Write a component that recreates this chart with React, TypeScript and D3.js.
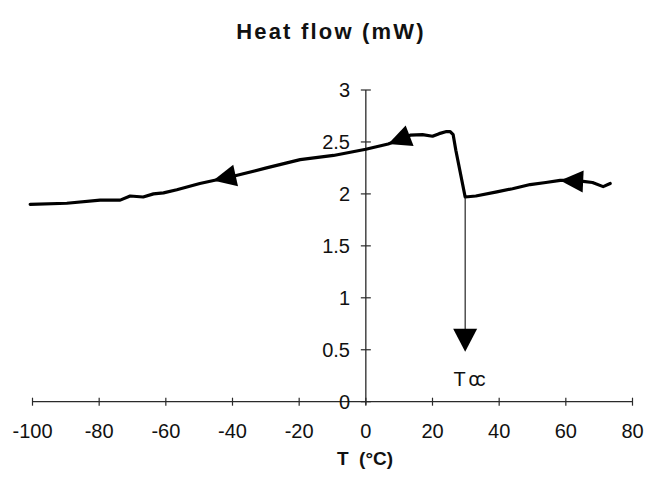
import React from "react";
import * as d3 from "d3";

// DSC cooling trace: temperature (°C) vs heat flow (mW)
const tempC = [
  -100.7, -89.7, -79.7, -73.7, -70.7, -66.8, -63.7, -60.7, -56.7, -49.8,
  -39.8, -29.8, -19.7, -9.7, 0, 6.7, 10, 13.3, 17, 20, 22, 24.2, 25.3, 26.2,
  27, 29.8, 33, 39.3, 44, 49.3, 54, 58.3, 62, 65.2, 68, 71.2, 73.3,
];
const heatFlow = [
  1.9, 1.91, 1.94, 1.94, 1.98, 1.97, 2.0, 2.01, 2.04, 2.1,
  2.17, 2.25, 2.33, 2.37, 2.43, 2.48, 2.52, 2.565, 2.57, 2.555, 2.58, 2.6, 2.6, 2.57,
  2.42, 1.97, 1.98, 2.02, 2.05, 2.09, 2.11, 2.13, 2.13, 2.12, 2.11, 2.07, 2.1,
];

// direction arrows along the trace (tip positions, °C)
const arrowTemps = [-45.8, 6.7, 58.3];

// crystallisation temperature marker
const tccTemp = 29.8;
const tccArrowTip = 0.48;
const tccLabel = ["T", "cc"];

const xTicks = [-100, -80, -60, -40, -20, 0, 20, 40, 60, 80];
const yTicks = [0, 0.5, 1, 1.5, 2, 2.5, 3];
const yTickLabels = ["0", "0.5", "1", "1.5", "2", "2.5", "3"];

const title = "Heat flow (mW)";
const xTitle = "T  (°C)";

const W = 645;
const H = 479;
const FONT = "'Liberation Sans', Arial, sans-serif";

export default function App() {
  const x = d3.scaleLinear().domain([-100, 80]).range([32.5, 632.5]);
  const y = d3.scaleLinear().domain([0, 3]).range([401.7, 90]);

  const pts: [number, number][] = tempC.map((t, i) => [t, heatFlow[i]]);
  const line = d3
    .line<[number, number]>()
    .x((d) => x(d[0]))
    .y((d) => y(d[1]))
    .curve(d3.curveLinear);

  const interp = (t: number) => {
    const i = Math.max(1, Math.min(tempC.length - 1, d3.bisectLeft(tempC, t)));
    const t0 = tempC[i - 1];
    const t1 = tempC[i];
    const f = (t - t0) / (t1 - t0);
    return heatFlow[i - 1] + f * (heatFlow[i] - heatFlow[i - 1]);
  };

  // left-pointing triangles laid along the trace
  const arrowLen = 23;
  const arrowHalf = 11;
  const arrows = arrowTemps.map((t) => {
    const tx = x(t);
    const ty = y(interp(t));
    const bx = tx + arrowLen;
    const by = y(interp(x.invert(bx)));
    const dx = bx - tx;
    const dy = by - ty;
    const len = Math.hypot(dx, dy);
    const ux = dx / len;
    const uy = dy / len;
    const cx = tx + ux * arrowLen;
    const cy = ty + uy * arrowLen;
    const px = -uy * arrowHalf;
    const py = ux * arrowHalf;
    return `M${tx},${ty}L${cx + px},${cy + py}L${cx - px},${cy - py}Z`;
  });

  const tx = x(tccTemp);
  const tTop = y(interp(tccTemp));
  const tTip = y(tccArrowTip);
  const downArrow = `M${tx},${tTip}L${tx - 12},${tTip - 23}L${tx + 12},${tTip - 23}Z`;

  const axisColor = "#2a2a2a";

  return (
    <svg
      width={W}
      height={H}
      style={{ position: "fixed", left: 0, top: 0, background: "#fff" }}
    >
      <rect width={W} height={H} fill="#fff" />
      <text
        x={331}
        y={39}
        textAnchor="middle"
        fontFamily={FONT}
        fontWeight="bold"
        fontSize={22}
        letterSpacing={2.2}
        fill="#111"
      >
        {title}
      </text>

      {/* x axis */}
      <line x1={x(-100)} x2={x(80)} y1={y(0)} y2={y(0)} stroke={axisColor} strokeWidth={1.3} />
      {xTicks.map((t) => (
        <g key={t}>
          <line x1={x(t)} x2={x(t)} y1={y(0) - 4} y2={y(0) + 4} stroke={axisColor} strokeWidth={1.2} />
          <text
            x={x(t)}
            y={438}
            textAnchor="middle"
            fontFamily={FONT}
            fontSize={20}
            fill="#111"
          >
            {t}
          </text>
        </g>
      ))}

      {/* y axis */}
      <line x1={x(0)} x2={x(0)} y1={y(3)} y2={y(0) + 3} stroke={axisColor} strokeWidth={1.3} />
      {yTicks.map((v, i) => (
        <g key={v}>
          <line x1={x(0) - 5} x2={x(0) + 5} y1={y(v)} y2={y(v)} stroke={axisColor} strokeWidth={1.2} />
          <text
            x={350}
            y={y(v)}
            dy="0.36em"
            textAnchor="end"
            fontFamily={FONT}
            fontSize={20}
            fill="#111"
          >
            {yTickLabels[i]}
          </text>
        </g>
      ))}

      <text
        x={365}
        y={465}
        textAnchor="middle"
        fontFamily={FONT}
        fontWeight="bold"
        fontSize={19}
        fill="#111"
        style={{ whiteSpace: "pre" }}
      >
        {xTitle}
      </text>

      {/* heat flow trace */}
      <path
        d={line(pts) || ""}
        fill="none"
        stroke="#000"
        strokeWidth={3.2}
        strokeLinejoin="round"
        strokeLinecap="round"
      />
      {arrows.map((d, i) => (
        <path key={i} d={d} fill="#000" />
      ))}

      {/* Tcc marker */}
      <line x1={tx} x2={tx} y1={tTop} y2={tTip - 20} stroke="#111" strokeWidth={1.1} />
      <path d={downArrow} fill="#000" />
      <text x={468} y={386} textAnchor="middle" fontFamily={FONT} fontSize={20} fill="#111">
        <tspan>{tccLabel[0]}</tspan>
        <tspan dx={3} letterSpacing={-3}>
          {tccLabel[1]}
        </tspan>
      </text>
    </svg>
  );
}
